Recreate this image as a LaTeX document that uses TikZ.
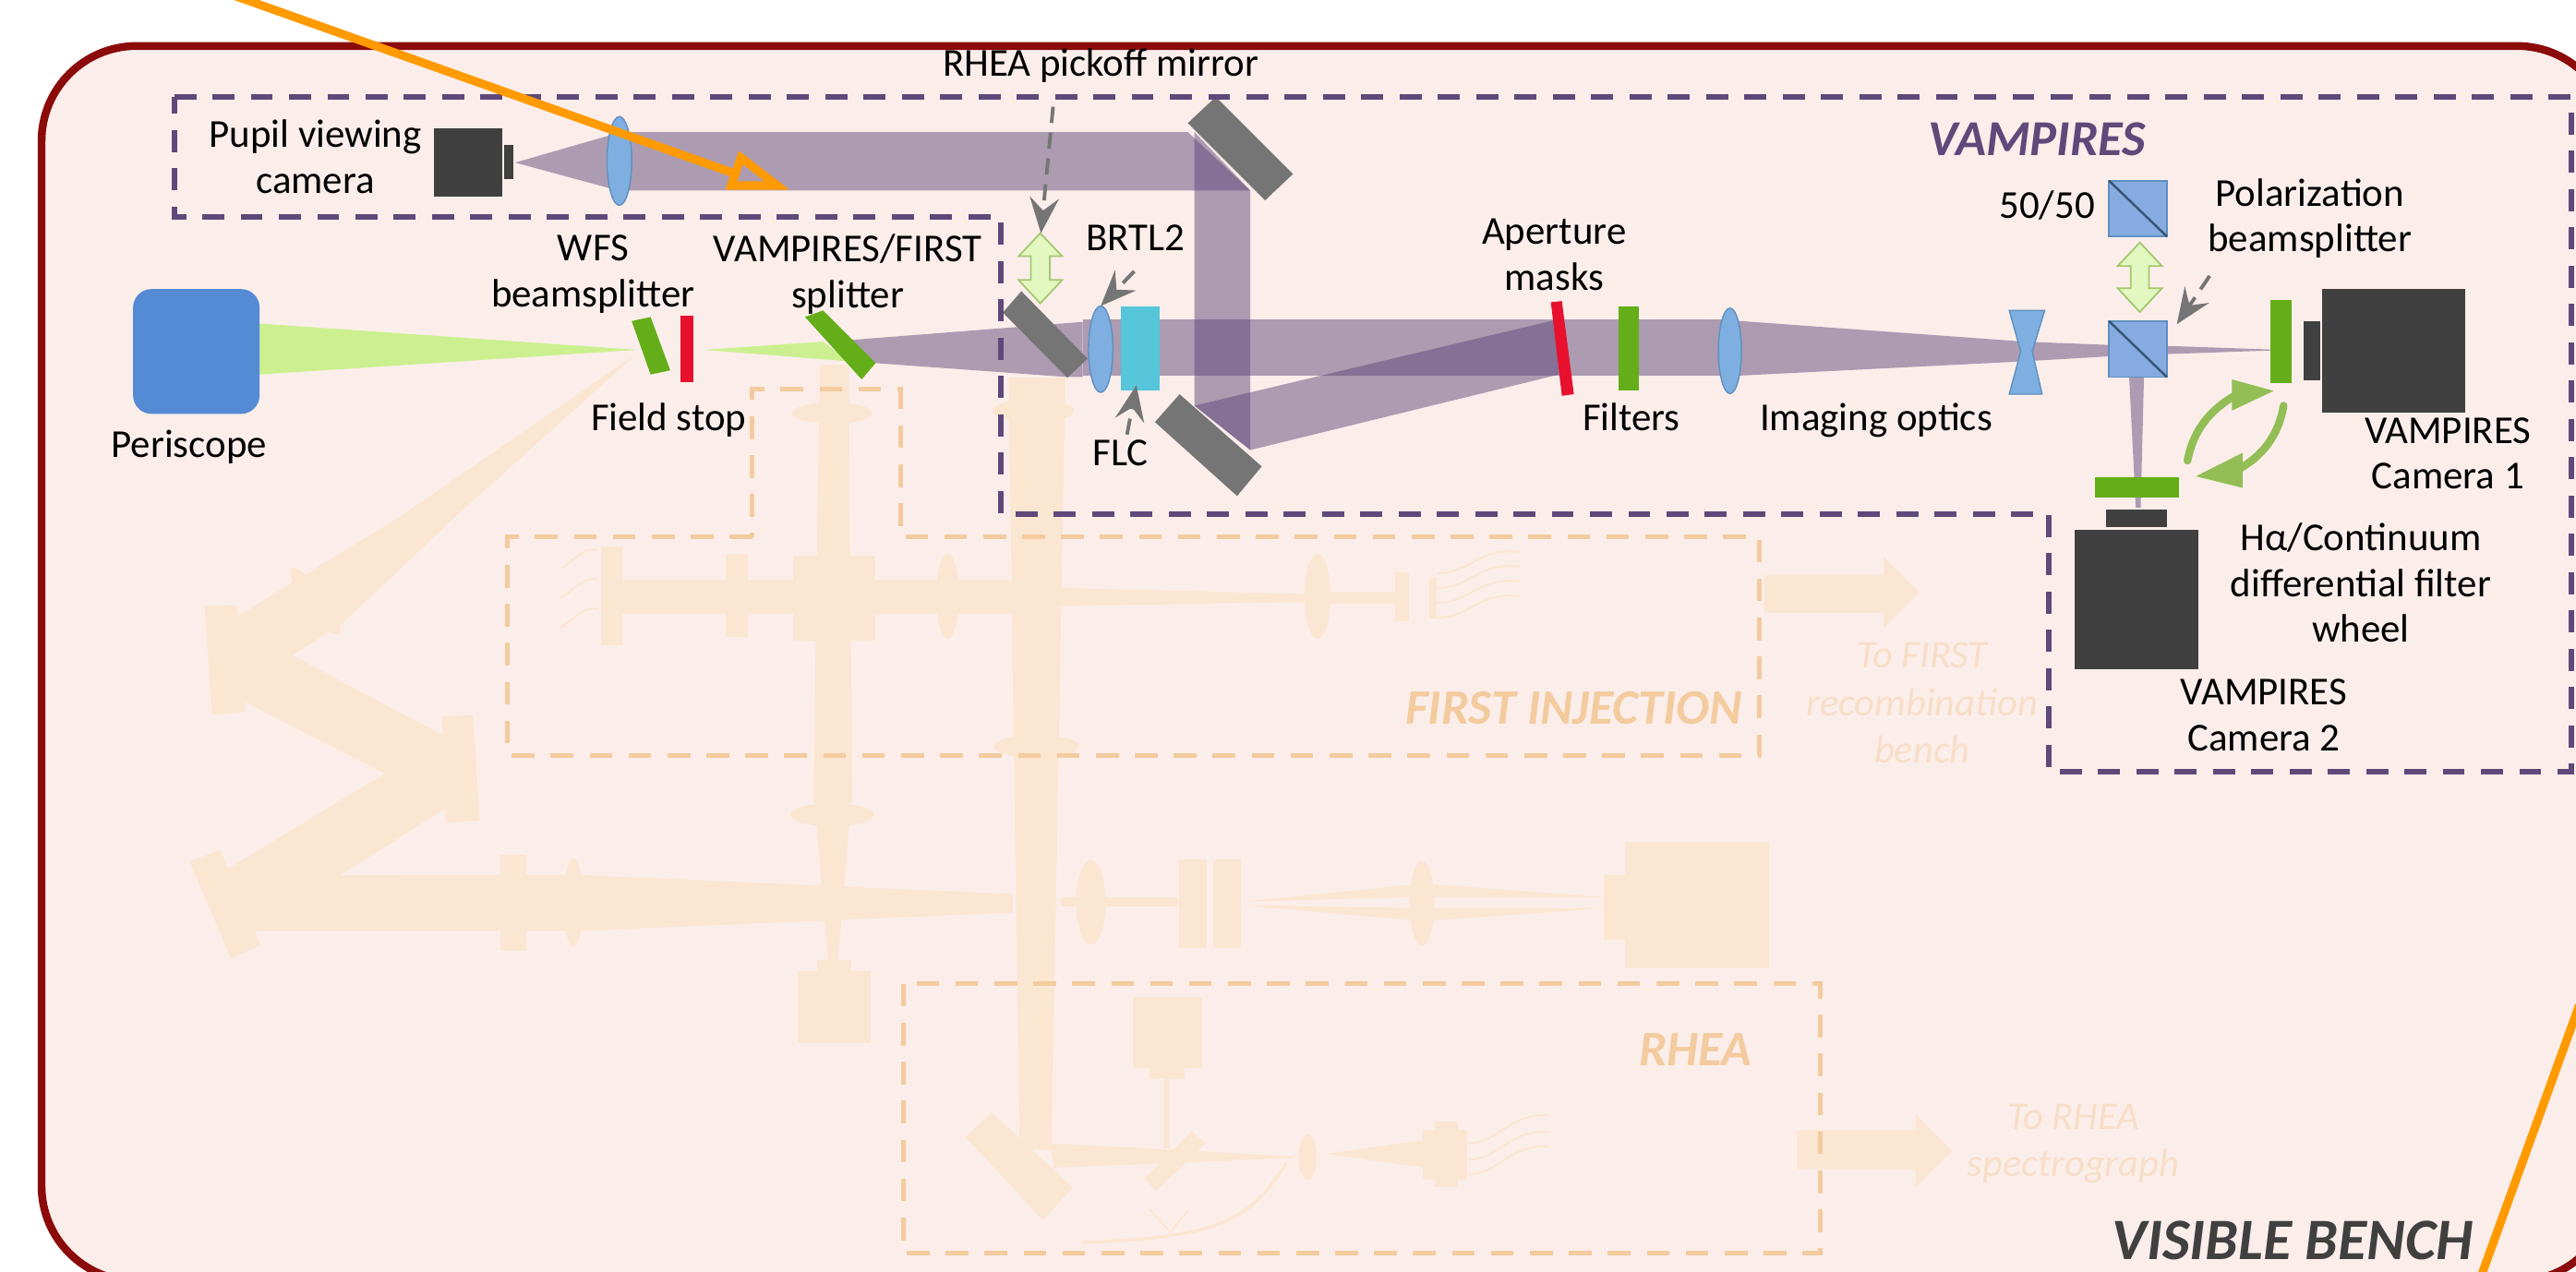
\documentclass[tikz,border=0pt]{standalone}
\usepackage{fontspec}
\setmainfont{Carlito}
\usetikzlibrary{arrows.meta}
\definecolor{benchbg}{HTML}{FBEEEA}
\definecolor{benchline}{HTML}{8B0A0A}
\definecolor{vamp}{HTML}{5F497A}
\definecolor{faintc}{HTML}{FBE6D2}
\definecolor{faintdash}{HTML}{F3CB9E}
\definecolor{fainttext}{HTML}{F8DEC8}
\definecolor{orangeline}{HTML}{FF9A00}
\definecolor{cam}{HTML}{404040}
\definecolor{mirrorc}{HTML}{757575}
\definecolor{filterg}{HTML}{64AE19}
\definecolor{lensc}{HTML}{7FAFE0}
\definecolor{lensb}{HTML}{5F8FC0}
\definecolor{cubec}{HTML}{85ABE0}
\definecolor{periscopec}{HTML}{558AD5}
\definecolor{flcc}{HTML}{57C5DA}
\definecolor{redc}{HTML}{E8112D}
\definecolor{beamg}{HTML}{CCF08F}
\definecolor{curveg}{HTML}{92BE55}
\tikzset{
  lbl/.style={font=\fontsize{12.2}{14.1}\selectfont,text=black,inner sep=0pt,align=center},
  title/.style={font=\fontsize{15.5}{17}\selectfont\bfseries\itshape,inner sep=0pt},
  faintlbl/.style={font=\fontsize{12.1}{14.6}\selectfont\itshape,text=fainttext,inner sep=0pt,align=center},
  fainttitle/.style={font=\fontsize{15.3}{17}\selectfont\bfseries\itshape,text=faintdash,inner sep=0pt},
  beam/.style={fill=vamp,fill opacity=0.5},
  gbeam/.style={fill=beamg},
  faint/.style={fill=faintc},
  fwire/.style={draw=faintc,line width=0.6pt},
  mirror/.style={fill=mirrorc},
  camera/.style={fill=cam},
  gfilter/.style={fill=filterg},
  lens/.style={fill=lensc,draw=lensb,line width=0.4pt},
  cube/.style={fill=cubec,draw=lensb,line width=0.5pt},
  vbox/.style={draw=vamp,line width=1.7pt,dash pattern=on 6.8pt off 5pt},
  fbox/.style={draw=faintdash,line width=1.4pt,dash pattern=on 7pt off 5pt},
  pointer/.style={draw=mirrorc,line width=1.1pt,dash pattern=on 5pt off 3pt,
     -{Stealth[length=11pt,width=9pt,inset=4pt,sep=0pt]}},
  dblarrow/.style={fill=beamg!55!white,draw=curveg!85!white,line width=0.5pt},
  orangeln/.style={draw=orangeline,line width=2.6pt},
  cycle/.style={draw=curveg,line width=2.4pt,line cap=round},
  cyclehead/.style={fill=curveg}
}
\begin{document}
\begin{tikzpicture}[x=0.017793cm,y=-0.017793cm]
\useasboundingbox (0,0) rectangle (1568,774.4);
\clip (0,0) rectangle (1568,774.4);
% bench
\draw[fill=benchbg,draw=benchline,line width=2.4pt,rounded corners=1.03cm] (25.3,28) rectangle (1590,780);

% ---------- faint: FIRST / RHEA / WFS
% diagonal beam and mirrors
\fill[faint] (388,215) -- (242.8,315) -- (140,378) -- (145,425.4) -- (234,471) -- (132,533) -- (150,566.8) -- (352,566.8) -- (616.6,555.6) -- (616.6,544.3) -- (352.4,532.7) -- (207,533) -- (273,491) -- (272,449) -- (178,399) -- (208,380) -- (276.8,315) -- cycle;
\fill[faint] (124.5,369) -- (144.2,368.6) -- (149.6,433) -- (129,435.7) -- cycle;
\fill[faint] (269,436) -- (288,435.6) -- (292,499.4) -- (271.4,501.2) -- cycle;
\fill[faint] (115.5,524.7) -- (134,517.2) -- (158.5,575.2) -- (140.6,583.7) -- cycle;
\fill[faint,rotate around={36:(192,366)}] (192,366) ellipse (6 and 25);
% horizontal lower path
\fill[faint] (304.8,520.5) rectangle (320.5,578.6);
\fill[faint] (349,549.5) ellipse (6 and 27);
\fill[faint] (646,546) rectangle (717,552);
\fill[faint] (664,549.4) ellipse (9 and 26);
\fill[faint] (717.7,523) rectangle (734.6,577);
\fill[faint] (738.6,523) rectangle (755.5,577);
\fill[faint] (756,549) -- (866,538) -- (975,546) -- (866,546) -- cycle;
\fill[faint] (756,551) -- (866,553) -- (975,553) -- (866,561) -- cycle;
\fill[faint] (865.6,550) ellipse (7.5 and 26);
\fill[faint] (976,533) rectangle (989.5,572);
\fill[faint] (989,512.5) rectangle (1077,589.3);
% vertical path under VAMPIRES/FIRST splitter
\fill[faint] (499,222) -- (516.6,222) -- (518.7,489) -- (495,489) -- cycle;
\fill[faint] (506.5,251.5) ellipse (24.5 and 6.5);
\fill[faint] (506.5,496) ellipse (25.5 and 7);
\fill[faint] (497,502) -- (517,502) -- (510,585) -- (504,585) -- cycle;
\fill[faint] (497.5,584.6) rectangle (518,591.5);
\fill[faint] (485.7,591) rectangle (530,635);
% FIRST injection row
\fill[faint] (483,338.4) rectangle (533,390);
\fill[faint] (377,353.2) rectangle (613.7,373.8);
\fill[faint] (366,332.6) rectangle (379,393);
\fill[faint] (442,337) rectangle (455,388);
\fill[faint] (576.8,363) ellipse (7 and 26);
\fill[faint] (613,353.2) -- (648,358) -- (795,361.6) -- (795,366.5) -- (648,369) -- (613,373.8) -- cycle;
\fill[faint] (802,363) ellipse (8 and 26);
\fill[faint] (802,360) rectangle (850,367.6);
\fill[faint] (849,348.5) rectangle (857.7,378);
\fill[faint] (869.9,351) rectangle (874.6,376.6);
\foreach \yy in {349,358,367,376}
  \draw[fwire] (875,\yy) .. controls (895,\yy) and (900,\yy-16) .. (925,\yy-13);
\foreach \yy in {346,364,382}
  \draw[fwire] (341,\yy) .. controls (347,\yy-2) and (355,\yy-14) .. (364,\yy-11);
% pickoff vertical
\fill[faint] (614,230) -- (648.5,230) -- (640,700) -- (620.6,700) -- cycle;
\fill[faint] (629,250) ellipse (25 and 7);
\fill[faint] (631,454.4) ellipse (26 and 7);
% RHEA
\fill[faint] (603.6,677.4) -- (653,723) -- (635,743) -- (587.7,692.4) -- cycle;
\fill[faint] (639,696) -- (787.6,704) -- (787.6,705) -- (641.5,711) -- cycle;
\fill[faint] (725.3,688.6) -- (734,696) -- (703.8,725) -- (696.5,717.6) -- cycle;
\fill[faint] (708,657) rectangle (712,699);
\fill[faint] (689.6,607) rectangle (731.8,650);
\fill[faint] (699.5,650) rectangle (721,657);
\fill[faint] (796,704.5) ellipse (5.5 and 14);
\fill[faint] (807,702.5) -- (867,694) -- (867,711) -- cycle;
\fill[faint] (866,688) rectangle (893,718);
\fill[faint] (873.6,683) rectangle (887.4,723);
\foreach \yy in {696,706,715}
  \draw[fwire] (894,\yy) .. controls (912,\yy) and (918,\yy-18) .. (942,\yy-17);
\draw[fwire,line width=1pt] (658.7,756.6) .. controls (740,753) and (760,745) .. (783,708);
\draw[fwire] (699.5,736) -- (712.4,750.4) -- (723,737);
% arrows
\fill[faint] (1073.7,350.4) -- (1146.7,350.4) -- (1146.7,339) -- (1168.4,360.5) -- (1146.7,382.3) -- (1146.7,373) -- (1073.7,373) -- cycle;
\fill[faint] (1093.8,688) -- (1166,688) -- (1166,678.3) -- (1188.3,701) -- (1166,723) -- (1166,711.7) -- (1093.8,711.7) -- cycle;
% faint dashed boxes
\draw[fbox] (458,327) -- (309,327) -- (309,460) -- (1071,460) -- (1071,327) -- (548,327) -- (548,237) -- (458,237) -- cycle;
\draw[fbox] (550,599) rectangle (1108,763);
\node[fainttitle] (first) at (958,431) {FIRST INJECTION};
\node[fainttitle] (rhea) at (1032,639) {RHEA};
\node[faintlbl] (tofirst) at (1170,428) {To FIRST\\recombination\\bench};
\node[faintlbl] (torhea) at (1262,696.5) {To RHEA\\spectrograph};

% ---------- VAMPIRES beams
\fill[beam] (376,80.4) -- (723,80.4) -- (761,116) -- (376,116) -- cycle;
\fill[beam] (313.5,99) -- (372.6,82) -- (372.6,115) -- cycle;
\fill[beam] (727,80.4) -- (761,116) -- (761,274) -- (727,247) -- cycle;
\fill[beam] (727,247) -- (946,195) -- (949,228) -- (761,274) -- cycle;
\fill[beam] (518,207) -- (659,196) -- (659,229.5) -- (649,229.5) -- (532,221) -- cycle;
\fill[beam] (659,194.6) rectangle (1053,229);
\fill[beam] (1053,195) -- (1232,208) -- (1283,210) -- (1283,217) -- (1232,220) -- (1053,229) -- cycle;
\fill[beam] (1319,210.6) -- (1382,212.8) -- (1382,213.4) -- (1319,215.6) -- cycle;
\fill[beam] (1296,229.6) -- (1305,229.6) -- (1303,309) -- (1300,309) -- cycle;
% green beams
\fill[gbeam] (158,197) -- (388,213) -- (158,228) -- cycle;
\fill[gbeam] (428.6,213) -- (501,208) -- (516.5,220) -- cycle;

% optics
\fill[fill=periscopec,rounded corners=0.2cm] (81,176) rectangle (158,252);
\fill[gfilter] (384.5,195.5) -- (396,193) -- (408,225.5) -- (396,228) -- cycle;
\fill[redc] (414,192) rectangle (422,232.6);
\fill[gfilter] (490,193) -- (501,189) -- (533,221) -- (524.5,231) -- cycle;
\fill[camera] (264,78) rectangle (305.6,119.6);
\fill[camera] (306.8,88.4) rectangle (312.7,109);
\filldraw[lens] (377,98) ellipse (7.5 and 27);
\fill[mirror] (740,59) -- (787,106) -- (770,122) -- (723,75) -- cycle;
\fill[mirror] (718,240) -- (768,284) -- (753,302) -- (703,257) -- cycle;
\fill[mirror] (621.7,177.3) -- (662,218.4) -- (649.7,230) -- (610.4,190.3) -- cycle;
\filldraw[lens] (670,212.6) ellipse (7.4 and 26.3);
\fill[fill=flcc] (682,186.7) rectangle (706,237.7);
\fill[redc] (944,184) -- (950.7,183.3) -- (958,240) -- (950.7,241) -- cycle;
\fill[gfilter] (985,186.7) rectangle (997.5,238);
\filldraw[lens] (1053,213.6) ellipse (7 and 26);
\filldraw[lens] (1223,189) -- (1244.6,189) -- (1237,214) -- (1243,240) -- (1223,240) -- (1230,214) -- cycle;
\filldraw[cube] (1283.7,195.5) rectangle (1319,229.6);
\draw[lensb!60!black,line width=0.7pt] (1283.7,195.5) -- (1319,229.6);
\filldraw[cube] (1283.7,110) rectangle (1319,144);
\draw[lensb!60!black,line width=0.7pt] (1283.7,110) -- (1319,144);
\filldraw[dblarrow] (1302.5,147.6) -- (1316,162) -- (1308,162) -- (1308,175.5) -- (1316,175.5) -- (1302.5,190) -- (1289,175.5) -- (1297,175.5) -- (1297,162) -- (1289,162) -- cycle;
\filldraw[dblarrow] (633.2,142) -- (646.5,156) -- (639,156) -- (639,170.5) -- (646.5,170.5) -- (633.2,184.7) -- (620,170.5) -- (627.5,170.5) -- (627.5,156) -- (620,156) -- cycle;
\fill[gfilter] (1382,182.6) rectangle (1394.6,233.5);
\fill[camera] (1402,195.5) rectangle (1412.4,231.8);
\fill[camera] (1413.4,176) rectangle (1500.4,251);
\fill[gfilter] (1275,290.5) rectangle (1326.5,303);
\fill[camera] (1282,310) rectangle (1319,321);
\fill[camera] (1263,322.4) rectangle (1338,407.7);

% cycle arrows
\coordinate (cua) at (1331.5,280.5);
\coordinate (cub) at (1360,241);
\draw[cycle] (cua) .. controls (1335,262) and (1345,250) .. (cub);
\fill[cyclehead] (1384,238) -- (1358.5,231) -- (1358.5,250) -- cycle;
\coordinate (cla) at (1390,247);
\coordinate (clb) at (1362,286);
\draw[cycle] (cla) .. controls (1387,265) and (1377,278) .. (clb);
\fill[cyclehead] (1336.6,290) -- (1365,275.7) -- (1365,297) -- cycle;

% dashed pointers
\coordinate (pa1) at (641,65); \coordinate (pa2) at (633.6,142);
\draw[pointer] (pa1) -- (pa2);
\coordinate (pb1) at (690.4,165.2); \coordinate (pb2) at (670,186.3);
\draw[pointer] (pb1) -- (pb2);
\coordinate (pc1) at (686,264.6); \coordinate (pc2) at (691.7,234.5);
\draw[pointer] (pc1) -- (pc2);
\coordinate (pd1) at (1345,168); \coordinate (pd2) at (1325,197.4);
\draw[pointer] (pd1) -- (pd2);

% VAMPIRES box
\draw[vbox] (106,59) -- (1565,59) -- (1565,470) -- (1247,470) -- (1247,313) -- (609,313) -- (609,132) -- (106,132) -- cycle;

% orange lines
\coordinate (oa) at (136,-5); \coordinate (ob) at (450,106.7);
\draw[orangeln] (oa) -- (ob);
\draw[orangeln,line join=miter] (451,96) -- (473,113) -- (445,113) -- cycle;
\coordinate (oc) at (1510.6,776); \coordinate (od) at (1570,612);
\draw[orangeln] (oc) -- (od);

% labels
\node[lbl] (pup) at (192,95.5) {Pupil viewing\\camera};
\node[lbl] (pick) at (670,40) {RHEA pickoff mirror};
\node[title,text=vamp] (vt) at (1240,85) {VAMPIRES};
\node[lbl] (fifty) at (1246,125) {50/50};
\node[lbl] (pol) at (1406,133) {Polarization\\beamsplitter};
\node[lbl] (wfs) at (361,167) {WFS\\beamsplitter};
\node[lbl] (vf) at (516,167) {VAMPIRES/FIRST\\splitter};
\node[lbl] (brtl) at (691,145) {BRTL2};
\node[lbl] (ap) at (946,155) {Aperture\\masks};
\node[lbl] (flc) at (682,276) {FLC};
\node[lbl] (filt) at (993,254) {Filters};
\node[lbl] (img) at (1142,256) {Imaging optics};
\node[lbl] (fs) at (407,256) {Field stop};
\node[lbl] (per) at (115,272) {Periscope};
\node[lbl] (c1) at (1490,276) {VAMPIRES\\Camera 1};
\node[lbl] (ha) at (1437,355) {Hα/Continuum\\differential filter\\wheel};
\node[lbl] (c2) at (1378,435.5) {VAMPIRES\\Camera 2};
\node[font=\fontsize{18.1}{20}\selectfont\bfseries\itshape,inner sep=0pt,text=cam] (vb) at (1395.5,755) {VISIBLE BENCH};
\end{tikzpicture}
\end{document}
